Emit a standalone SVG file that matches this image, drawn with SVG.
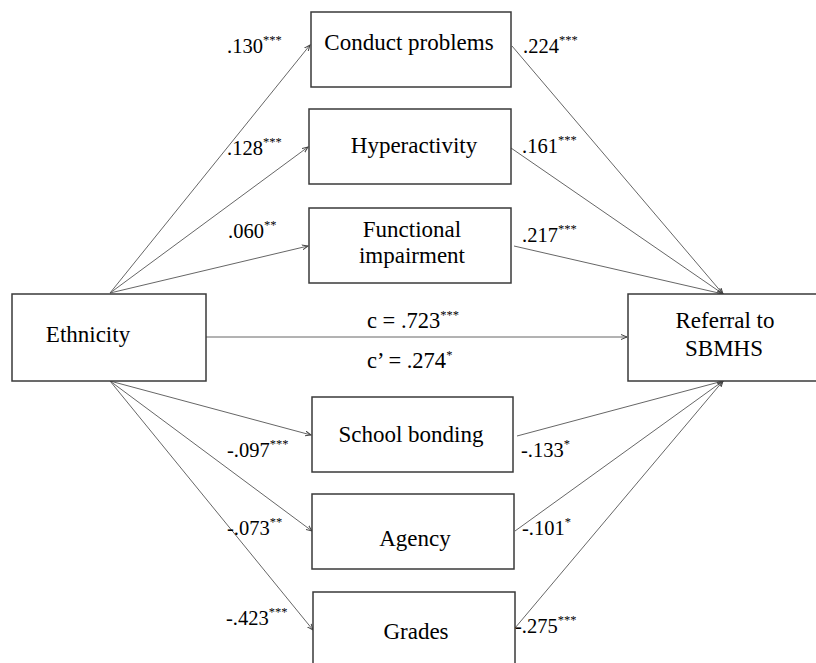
<svg xmlns="http://www.w3.org/2000/svg" width="816" height="663" viewBox="0 0 816 663">
<style>
.box{fill:#fff;stroke:#3a3a3a;stroke-width:1.5}
.nt{font-family:"Liberation Serif",serif;font-size:23px;fill:#000;text-anchor:middle}
.lb{font-family:"Liberation Serif",serif;font-size:20.5px;fill:#000}
.cl{font-family:"Liberation Serif",serif;font-size:22.5px;fill:#000}
.st{font-size:12.5px}
.ln{stroke:#555;stroke-width:0.9;fill:none;marker-end:url(#ah)}
</style>
<defs>
<marker id="ah" markerUnits="userSpaceOnUse" markerWidth="7" markerHeight="6" refX="6" refY="3" orient="auto">
<path d="M0,0.5 L6,3 L0,5.5" fill="none" stroke="#444" stroke-width="1"/>
</marker>
</defs>
<rect width="816" height="663" fill="#fff"/>
<g id="connectors">
<line class="ln" x1="110" y1="293" x2="310" y2="45"/>
<line class="ln" x1="110" y1="293" x2="308" y2="147"/>
<line class="ln" x1="110" y1="293" x2="308" y2="246"/>
<line class="ln" x1="206" y1="337" x2="627" y2="337"/>
<line class="ln" x1="110" y1="381" x2="311" y2="435"/>
<line class="ln" x1="110" y1="381" x2="312" y2="531"/>
<line class="ln" x1="110" y1="381" x2="313" y2="630"/>
<line class="ln" x1="512" y1="46" x2="723" y2="294"/>
<line class="ln" x1="511" y1="148" x2="723" y2="294"/>
<line class="ln" x1="514" y1="246" x2="723" y2="294"/>
<line class="ln" x1="517" y1="436" x2="723" y2="381"/>
<line class="ln" x1="515" y1="531" x2="723" y2="381"/>
<line class="ln" x1="515" y1="628" x2="723" y2="381"/>
</g>
<g font-family="Liberation Serif, serif">
<g id="ethnicity">
<rect class="box" x="12" y="294" width="194" height="87"/>
<text class="nt" x="88" y="342">Ethnicity</text>
</g>
<g id="referral">
<rect class="box" x="628" y="294" width="200" height="87"/>
<text class="nt" x="725" y="328">Referral to</text>
<text class="nt" x="724" y="356">SBMHS</text>
</g>
<g id="conduct">
<rect class="box" x="311" y="12" width="200" height="75"/>
<text class="nt" x="409" y="50">Conduct problems</text>
</g>
<g id="hyperactivity">
<rect class="box" x="309" y="109" width="202" height="75"/>
<text class="nt" x="414" y="153">Hyperactivity</text>
</g>
<g id="functional">
<rect class="box" x="309" y="208" width="202" height="75"/>
<text class="nt" x="412" y="237">Functional</text>
<text class="nt" x="412" y="263">impairment</text>
</g>
<g id="school">
<rect class="box" x="312" y="397" width="201" height="75"/>
<text class="nt" x="411" y="442">School bonding</text>
</g>
<g id="agency">
<rect class="box" x="312" y="494" width="202" height="75"/>
<text class="nt" x="415" y="546">Agency</text>
</g>
<g id="grades">
<rect class="box" x="313" y="592" width="202" height="80"/>
<text class="nt" x="416" y="639">Grades</text>
</g>
<g id="labels">
<text class="lb" x="227" y="53">.130<tspan class="st" dy="-9">***</tspan></text>
<text class="lb" x="227" y="155">.128<tspan class="st" dy="-9">***</tspan></text>
<text class="lb" x="228" y="238">.060<tspan class="st" dy="-9">**</tspan></text>
<text class="lb" x="523" y="53">.224<tspan class="st" dy="-9">***</tspan></text>
<text class="lb" x="522" y="153">.161<tspan class="st" dy="-9">***</tspan></text>
<text class="lb" x="522" y="242">.217<tspan class="st" dy="-9">***</tspan></text>
<text class="cl" x="367" y="328">c = .723<tspan class="st" dy="-9">***</tspan></text>
<text class="cl" x="367" y="368">c’ = .274<tspan class="st" dy="-9">*</tspan></text>
<text class="lb" x="227" y="457">-.097<tspan class="st" dy="-9">***</tspan></text>
<text class="lb" x="227" y="535">-.073<tspan class="st" dy="-9">**</tspan></text>
<text class="lb" x="226" y="625">-.423<tspan class="st" dy="-9">***</tspan></text>
<text class="lb" x="521" y="457">-.133<tspan class="st" dy="-9">*</tspan></text>
<text class="lb" x="522" y="535">-.101<tspan class="st" dy="-9">*</tspan></text>
<text class="lb" x="515" y="633">-.275<tspan class="st" dy="-9">***</tspan></text>
</g>
</g>
</svg>
